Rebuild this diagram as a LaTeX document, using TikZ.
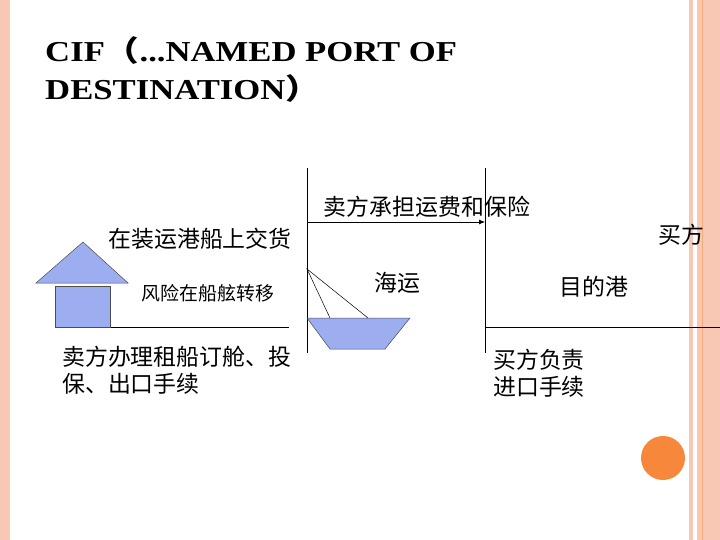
\documentclass[tikz,border=0pt]{standalone}
\usepackage{fontspec}
\setmainfont{Liberation Serif}
\newfontfamily\cjk{Noto Sans CJK SC}
\usetikzlibrary{arrows.meta}
\definecolor{blu}{HTML}{9DAEF0}
\definecolor{pk}{HTML}{F8C8B4}
\definecolor{org}{HTML}{F7873A}
\begin{document}
\begin{tikzpicture}[x=1bp,y=-1bp,
  cn/.style={font=\cjk\fontsize{23}{26}\selectfont,inner sep=0pt},
  cs/.style={font=\cjk\fontsize{19}{22}\selectfont,inner sep=0pt},
  tt/.style={anchor=base west,inner sep=0pt,font=\bfseries\fontsize{29}{34}\selectfont,xscale=1.2,transform shape},
  ln/.style={draw=black,line width=0.8bp},
  shp/.style={fill=blu,draw=black!70,line width=0.5bp}]
\useasboundingbox (0,0) rectangle (720,540);
\fill[white] (0,0) rectangle (720,540);
% borders
\fill[pk] (0,0) rectangle (10,540);
\fill[pk] (689,0) rectangle (693,540);
\fill[pk] (697,0) rectangle (720,540);
\draw[org!70,line width=1bp] (702,0) -- (702,540);
\fill[org] (663,458) circle (22);
% title
\node[tt] (t1) at (45,62) {CIF{\cjk（}...NAMED PORT OF};
\node[tt] (t2) at (45,100) {DESTINATION{\cjk）}};
% lines
\coordinate (v1t) at (307,168); \coordinate (v1b) at (307,353);
\coordinate (v2t) at (485,168); \coordinate (v2b) at (485,353);
\draw[ln] (v1t) -- (v1b);
\draw[ln] (v2t) -- (v2b);
\coordinate (a1) at (307,222); \coordinate (a2) at (485,222);
\draw[ln,-{Latex[length=6bp,width=5bp]}] (a1) -- (a2);
\coordinate (h1) at (92,327); \coordinate (h2) at (289,327);
\draw[ln] (h1) -- (h2);
\coordinate (h3) at (485,327); \coordinate (h4) at (720,327);
\draw[ln] (h3) -- (h4);
% house
\draw[shp] (36,283) -- (83,242) -- (128,283) -- cycle;
\draw[shp] (55,286) rectangle (110,327);
% boat
\coordinate (s0) at (307,269);
\coordinate (s1) at (330,318); \coordinate (s2) at (368,318);
\draw[black,line width=0.5bp] (s1) -- (s0) -- (s2);
\draw[shp] (307,318) -- (410,318) -- (385,349) -- (330,349) -- cycle;
% texts
\node[cn] (n1) at (427,207) {卖方承担运费和保险};
\node[cn] (n2) at (200,239) {在装运港船上交货};
\node[cn] (n3) at (681,235) {买方};
\node[cs] (n4) at (208,293) {风险在船舷转移};
\node[cn] (n5) at (397,283) {海运};
\node[cn] (n6) at (594,287) {目的港};
\node[cn,anchor=west] (n7) at (62,357) {卖方办理租船订舱、投};
\node[cn,anchor=west] (n8) at (62,384) {保、出口手续};
\node[cn,anchor=west] (n9) at (493,360) {买方负责};
\node[cn,anchor=west] (n10) at (493,387) {进口手续};
\end{tikzpicture}
\end{document}
